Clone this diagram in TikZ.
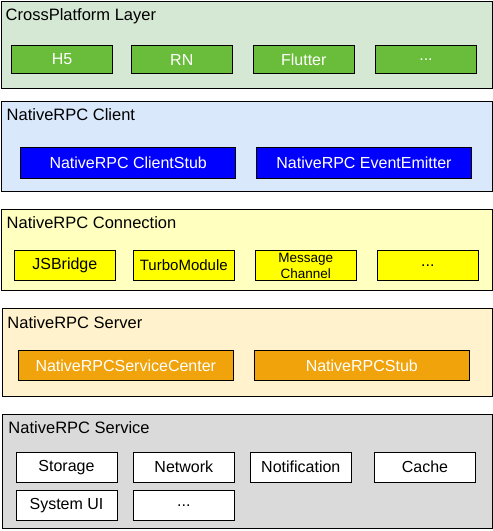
\documentclass[tikz,border=0pt]{standalone}
\usepackage{fontspec}
\setmainfont{Liberation Sans}
\definecolor{lgreen}{HTML}{D5E8D4}
\definecolor{dgreen}{HTML}{6ABD3A}
\definecolor{lblue}{HTML}{DAE8FC}
\definecolor{dblue}{HTML}{0000FF}
\definecolor{lyellow}{HTML}{FFFFC0}
\definecolor{dyellow}{HTML}{FFFF00}
\definecolor{lorange}{HTML}{FFF2CC}
\definecolor{dorange}{HTML}{F0A30A}
\definecolor{lgray}{HTML}{DADADA}
\begin{document}
\begin{tikzpicture}[x=1pt,y=-1pt,
  layer/.style={draw=black,line width=1pt},
  ltitle/.style={anchor=base west,inner sep=0pt,font=\fontsize{16.5}{19}\selectfont},
  box/.style={draw=black,line width=1pt,inner sep=0pt,align=center,font=\fontsize{16}{19}\selectfont},
  sbox/.style={box,minimum width=101pt,minimum height=28pt},
  wbox/.style={box,minimum width=215pt,minimum height=30pt},
  gbox/.style={sbox,fill=dgreen,text=white},
  bbox/.style={wbox,fill=dblue,text=white,minimum height=31pt},
  ybox/.style={sbox,fill=dyellow,text=black,minimum height=29.6pt},
  obox/.style={wbox,fill=dorange,text=white,minimum height=29.6pt},
  whbox/.style={sbox,fill=white,text=black,minimum height=29.7pt}]
\useasboundingbox (0,0) rectangle (493,531);
% Layer 1
\draw[layer,fill=lgreen] (1,1) rectangle (492,88);
\node[ltitle] (t1) at (5.5,20) {CrossPlatform Layer};
\node[gbox] (h5) at (62,59.5) {H5};
\node[gbox] (rn) at (181.8,59.5) {RN};
\node[gbox] (flutter) at (303.8,59.5) {Flutter};
\node[gbox] (cpmore) at (426,59.5) {...};
% Layer 2
\draw[layer,fill=lblue] (1,101.7) rectangle (492,191.7);
\node[ltitle] (t2) at (6.5,120.7) {NativeRPC Client};
\node[bbox] (stub) at (128.2,162.8) {NativeRPC ClientStub};
\node[bbox] (emitter) at (364,162.8) {NativeRPC EventEmitter};
% Layer 3
\draw[layer,fill=lyellow] (1.3,209.3) rectangle (492.7,290);
\node[ltitle] (t3) at (6.5,228.3) {NativeRPC Connection};
\node[ybox] (jsb) at (64.8,265.5) {JSBridge};
\node[ybox,font=\fontsize{15}{18}\selectfont] (turbo) at (183.8,265.5) {TurboModule};
\node[ybox,font=\fontsize{13.5}{16}\selectfont] (msg) at (305.8,265.5) {Message\\Channel};
\node[ybox] (cnmore) at (427.8,265.5) {...};
% Layer 4
\draw[layer,fill=lorange] (2.7,308.3) rectangle (492.7,396);
\node[ltitle] (t4) at (7.3,328.3) {NativeRPC Server};
\node[obox] (center) at (125.8,365.5) {NativeRPCServiceCenter};
\node[obox] (rpcstub) at (361.8,365.5) {NativeRPCStub};
% Layer 5
\draw[layer,fill=lgray] (2.7,414) rectangle (492.3,528.3);
\node[ltitle] (t5) at (8.3,433.3) {NativeRPC Service};
\node[whbox] (storage) at (66.5,467.2) {Storage};
\node[whbox] (network) at (183.8,467.2) {Network};
\node[whbox] (notif) at (300.8,467.2) {Notification};
\node[whbox] (cache) at (425,467.2) {Cache};
\node[whbox] (sysui) at (66.5,505.8) {System UI};
\node[whbox] (svmore) at (183.8,505.8) {...};
\end{tikzpicture}
\end{document}
